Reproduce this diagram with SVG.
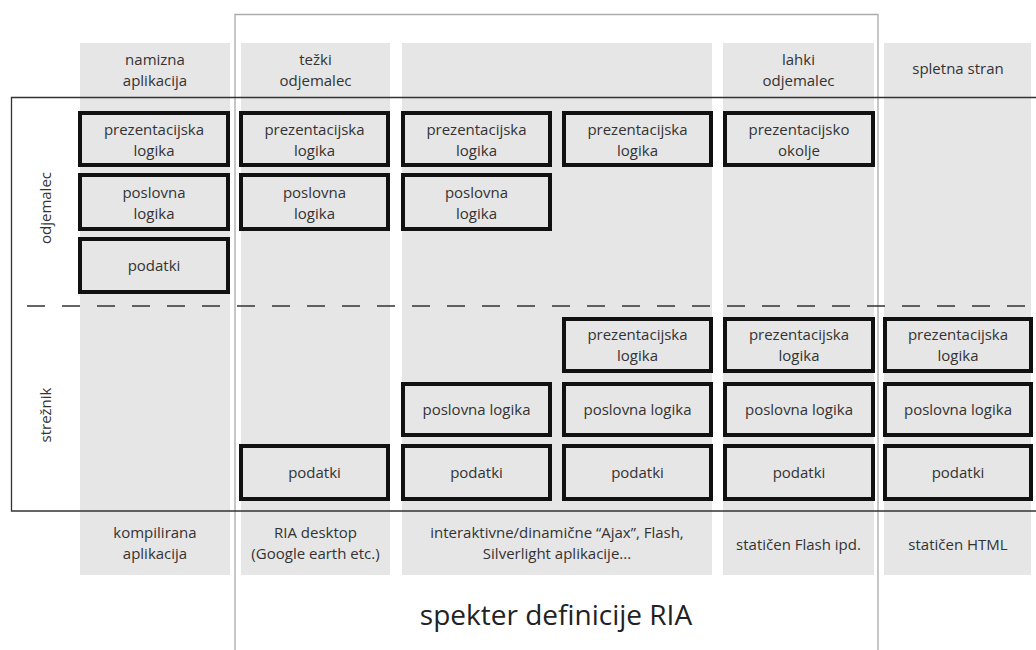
<svg xmlns="http://www.w3.org/2000/svg" width="1036" height="650" viewBox="0 0 1036 650">
  <style>
    .col { fill: #e6e6e6; }
    .box { fill: #e6e6e6; stroke: #111; stroke-width: 4; }
    .t { font-family: "Open Sans", "Noto Sans", sans-serif; font-size: 15px; fill: #333; text-anchor: middle; }
    .title { font-family: "Open Sans", "Noto Sans", sans-serif; font-size: 28px; fill: #222; text-anchor: middle; }
  </style>

  <!-- grey category columns -->
  <g id="columns">
    <rect class="col" x="80" y="43" width="150" height="532"/>
    <rect class="col" x="241" y="43" width="149" height="532"/>
    <rect class="col" x="402" y="43" width="310" height="532"/>
    <rect class="col" x="723" y="43" width="151" height="532"/>
    <rect class="col" x="884" y="43" width="147" height="532"/>
  </g>

  <!-- RIA spectrum frame -->
  <path id="ria-frame" d="M235,650 V14.5 H878 V650" fill="none" stroke="#aaa" stroke-width="1.3"/>

  <!-- client / server frame -->
  <path id="tier-frame" d="M1036,97.5 H11.5 V511 H1036" fill="none" stroke="#333" stroke-width="1.3"/>

  <!-- client / server divider -->
  <g id="connectors">
    <line x1="27" y1="306" x2="1032" y2="306" stroke="#333" stroke-width="1.5" stroke-dasharray="18 17"/>
  </g>

  <!-- column headings -->
  <g id="headings">
    <text class="t" x="155" y="65">namizna</text>
    <text class="t" x="155" y="86">aplikacija</text>
    <text class="t" x="315.5" y="65">težki</text>
    <text class="t" x="315.5" y="86">odjemalec</text>
    <text class="t" x="798.5" y="65">lahki</text>
    <text class="t" x="798.5" y="86">odjemalec</text>
    <text class="t" x="958" y="74">spletna stran</text>
  </g>

  <!-- tier labels -->
  <g id="tier-labels">
    <text class="t" transform="translate(51,208) rotate(-90)">odjemalec</text>
    <text class="t" transform="translate(51,415) rotate(-90)">strežnik</text>
  </g>

  <!-- client side -->
  <g id="c1-pres"><rect class="box" x="80" y="113" width="148" height="52"/><text class="t" x="154" y="135">prezentacijska</text><text class="t" x="154" y="156">logika</text></g>
  <g id="c1-bus"><rect class="box" x="80" y="175" width="148" height="54"/><text class="t" x="154" y="198">poslovna</text><text class="t" x="154" y="219">logika</text></g>
  <g id="c1-data"><rect class="box" x="80" y="239" width="148" height="53"/><text class="t" x="154" y="271">podatki</text></g>

  <g id="c2-pres"><rect class="box" x="241" y="113" width="147" height="52"/><text class="t" x="314.5" y="135">prezentacijska</text><text class="t" x="314.5" y="156">logika</text></g>
  <g id="c2-bus"><rect class="box" x="241" y="175" width="147" height="54"/><text class="t" x="314.5" y="198">poslovna</text><text class="t" x="314.5" y="219">logika</text></g>

  <g id="c3a-pres"><rect class="box" x="403" y="113" width="147" height="52"/><text class="t" x="476.5" y="135">prezentacijska</text><text class="t" x="476.5" y="156">logika</text></g>
  <g id="c3a-bus"><rect class="box" x="403" y="175" width="147" height="54"/><text class="t" x="476.5" y="198">poslovna</text><text class="t" x="476.5" y="219">logika</text></g>

  <g id="c3b-pres"><rect class="box" x="564" y="113" width="147" height="52"/><text class="t" x="637.5" y="135">prezentacijska</text><text class="t" x="637.5" y="156">logika</text></g>

  <g id="c4-env"><rect class="box" x="725" y="113" width="148" height="52"/><text class="t" x="799" y="135">prezentacijsko</text><text class="t" x="799" y="156">okolje</text></g>

  <!-- server side -->
  <g id="s2-data"><rect class="box" x="241" y="446" width="147" height="53"/><text class="t" x="314.5" y="478">podatki</text></g>

  <g id="s3a-bus"><rect class="box" x="403" y="384" width="147" height="51"/><text class="t" x="476.5" y="415">poslovna logika</text></g>
  <g id="s3a-data"><rect class="box" x="403" y="446" width="147" height="53"/><text class="t" x="476.5" y="478">podatki</text></g>

  <g id="s3b-pres"><rect class="box" x="564" y="319" width="147" height="52"/><text class="t" x="637.5" y="340">prezentacijska</text><text class="t" x="637.5" y="361">logika</text></g>
  <g id="s3b-bus"><rect class="box" x="564" y="384" width="147" height="51"/><text class="t" x="637.5" y="415">poslovna logika</text></g>
  <g id="s3b-data"><rect class="box" x="564" y="446" width="147" height="53"/><text class="t" x="637.5" y="478">podatki</text></g>

  <g id="s4-pres"><rect class="box" x="725" y="319" width="148" height="52"/><text class="t" x="799" y="340">prezentacijska</text><text class="t" x="799" y="361">logika</text></g>
  <g id="s4-bus"><rect class="box" x="725" y="384" width="148" height="51"/><text class="t" x="799" y="415">poslovna logika</text></g>
  <g id="s4-data"><rect class="box" x="725" y="446" width="148" height="53"/><text class="t" x="799" y="478">podatki</text></g>

  <g id="s5-pres"><rect class="box" x="885" y="319" width="146" height="52"/><text class="t" x="958" y="340">prezentacijska</text><text class="t" x="958" y="361">logika</text></g>
  <g id="s5-bus"><rect class="box" x="885" y="384" width="146" height="51"/><text class="t" x="958" y="415">poslovna logika</text></g>
  <g id="s5-data"><rect class="box" x="885" y="446" width="146" height="53"/><text class="t" x="958" y="478">podatki</text></g>

  <!-- column footers -->
  <g id="footers">
    <text class="t" x="155" y="538">kompilirana</text>
    <text class="t" x="155" y="559">aplikacija</text>
    <text class="t" x="315.5" y="538">RIA desktop</text>
    <text class="t" x="315.5" y="559">(Google earth etc.)</text>
    <text class="t" x="557" y="538">interaktivne/dinamične “Ajax”, Flash,</text>
    <text class="t" x="557" y="559">Silverlight aplikacije...</text>
    <text class="t" x="798.5" y="550">statičen Flash ipd.</text>
    <text class="t" x="958" y="550">statičen HTML</text>
  </g>

  <text id="title" class="title" x="556" y="625">spekter definicije RIA</text>
</svg>
